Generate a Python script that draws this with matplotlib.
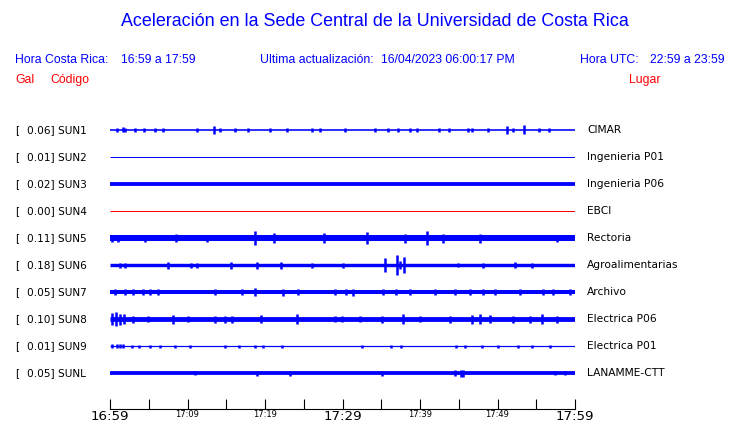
import matplotlib
matplotlib.use("Agg")
from matplotlib import pyplot as plt

W, H = 740, 423

codes = ["SUN1", "SUN2", "SUN3", "SUN4", "SUN5", "SUN6", "SUN7", "SUN8", "SUN9", "SUNL"]
peaks = [0.06, 0.01, 0.02, 0.00, 0.11, 0.18, 0.05, 0.10, 0.01, 0.05]
places = ["CIMAR", "Ingenieria P01", "Ingenieria P06", "EBCI", "Rectoria",
          "Agroalimentarias", "Archivo", "Electrica P06", "Electrica P01", "LANAMME-CTT"]
trace_colors = ["blue", "blue", "blue", "red", "blue", "blue", "blue", "blue", "blue", "blue"]

# background half-amplitude of each trace (px) and bursts (minute, half-amplitude px)
base_amp = [0.8, 0.5, 1.9, 0.5, 3.0, 1.7, 2.0, 2.4, 0.6, 1.9]
bursts = [
    [(0.9, 2), (1.7, 2.5), (1.9, 2), (3.2, 2), (4.4, 2), (5.8, 2), (6.9, 2), (11.2, 2), (13.4, 3.7),
     (14.2, 2), (16.1, 2), (17.8, 2), (20.6, 2), (22.8, 2), (26.0, 2), (27.1, 2), (30.3, 2),
     (34.2, 2), (35.9, 2), (37.2, 2), (38.7, 2), (39.6, 2), (42.4, 2), (43.7, 2), (46.2, 2),
     (46.7, 2), (48.8, 2), (51.2, 4), (52.0, 2), (53.4, 4.5), (55.3, 2), (56.6, 2)],
    [],
    [],
    [],
    [(0.3, 3.5), (1.0, 3.5), (4.5, 3.5), (8.5, 4), (12.5, 3.5), (18.7, 7), (21.2, 5), (27.6, 5),
     (33.2, 6), (38.1, 4.5), (40.9, 7), (43.0, 4.5), (47.7, 4.5), (57.7, 3.5)],
    [(1.3, 2.5), (1.9, 2.5), (7.5, 3.5), (10.5, 2.5), (11.2, 2.5), (15.6, 3.5), (19.0, 3.5),
     (22.1, 3.5), (26.1, 2.5), (30.1, 2.5), (35.5, 7), (37.0, 10), (37.4, 4), (37.9, 8),
     (44.9, 2), (48.1, 2.5), (52.3, 3), (54.5, 2.5)],
    [(0.6, 3), (1.9, 3), (3.0, 3), (4.3, 3), (5.2, 3), (6.2, 3), (13.5, 3), (17.0, 3), (18.7, 4),
     (22.3, 3.5), (24.3, 3), (29.0, 3), (30.5, 3), (31.4, 3.5), (35.2, 3), (36.9, 3), (38.7, 3),
     (41.9, 3), (44.5, 3), (46.5, 3), (48.1, 3), (49.7, 3), (52.9, 3), (55.9, 3), (57.2, 3),
     (59.4, 3)],
    [(0.3, 6), (0.8, 7), (1.3, 5.5), (1.8, 5), (3.0, 3.5), (4.9, 3), (8.1, 4.5), (10.1, 3),
     (13.5, 3.5), (14.8, 3.5), (15.7, 3.5), (19.5, 4), (24.1, 5), (29.0, 3), (29.9, 3), (32.3, 3),
     (35.1, 3.5), (37.8, 5), (40.0, 3), (43.9, 3.5), (46.7, 4.5), (47.7, 5), (49.0, 4), (52.0, 3.5),
     (54.2, 3.5), (55.7, 5), (57.7, 3.5)],
    [(0.2, 2), (0.9, 2), (1.3, 2), (1.7, 2), (2.8, 1.5), (3.7, 1.5), (5.2, 1.5), (6.5, 1.5),
     (8.4, 1.5), (10.3, 1.5), (14.8, 1.5), (16.6, 1.5), (18.7, 1.5), (19.8, 1.5), (22.2, 1.5),
     (32.5, 1.5), (36.3, 1.5), (37.6, 1.5), (44.7, 1.5), (45.8, 1.5), (48.0, 1.5), (50.1, 1.5),
     (52.7, 1.5), (54.4, 1.5), (56.8, 1.5)],
    [(11.0, 2.3), (19.0, 2.5), (23.2, 2.5), (35.1, 2.5), (44.5, 3), (45.3, 3.5), (45.5, 3.5),
     (57.4, 2.3), (58.7, 2.3)],
]

tick_minutes = list(range(0, 61, 5))
tick_labels = ["16:59", "", "17:09", "", "17:19", "", "17:29", "", "17:39", "", "17:49", "", "17:59"]
big_labels = ["16:59", "17:29", "17:59"]

fig = plt.figure(figsize=(W / 100, H / 100), dpi=100)


def fx(px):
    return px / W


def fy(py):
    return 1 - py / H


hdr = "Liberation Sans"
hs = 8.8
fig.text(fx(375), fy(22), "Aceleración en la Sede Central de la Universidad de Costa Rica",
         family=hdr, fontsize=12.9, color="blue", ha="center", va="center")
fig.text(fx(15), fy(60), "Hora Costa Rica:", family=hdr, fontsize=hs, color="blue", va="center")
fig.text(fx(121), fy(60), "16:59 a 17:59", family=hdr, fontsize=hs, color="blue", va="center")
fig.text(fx(260), fy(60), "Ultima actualización:", family=hdr, fontsize=hs, color="blue", va="center")
fig.text(fx(381), fy(60), "16/04/2023 06:00:17 PM", family=hdr, fontsize=hs, color="blue", va="center")
fig.text(fx(580), fy(60), "Hora UTC:", family=hdr, fontsize=hs, color="blue", va="center")
fig.text(fx(650), fy(60), "22:59 a 23:59", family=hdr, fontsize=hs, color="blue", va="center")
fig.text(fx(15), fy(80), "Gal", family=hdr, fontsize=hs, color="red", va="center")
fig.text(fx(50), fy(80), "Código", family=hdr, fontsize=hs, color="red", va="center")
fig.text(fx(629), fy(80), "Lugar", family=hdr, fontsize=hs, color="red", va="center")

top, bottom = 115, 409
ax = fig.add_axes([fx(110), fy(bottom), 465 / W, (bottom - top) / H])
ax.set_xlim(0, 60)
ax.set_ylim(bottom, top)
for s in ["top", "left", "right"]:
    ax.spines[s].set_visible(False)
ax.spines["bottom"].set_linewidth(0.8)
ax.set_yticks([])
ax.set_xticks(tick_minutes)
ax.set_xticklabels(tick_labels)
ax.tick_params(axis="x", direction="in", length=7, width=0.8, pad=1)
for lbl in ax.get_xticklabels():
    lbl.set_fontsize(9.6 if lbl.get_text() in big_labels else 6)

for i, code in enumerate(codes):
    yc = 130 + 27 * i
    c = trace_colors[i]
    ax.hlines(yc, 0, 60, color=c, lw=2 * base_amp[i] * 0.72)
    if bursts[i]:
        t = [b[0] for b in bursts[i]]
        a = [b[1] for b in bursts[i]]
        ax.vlines(t, [yc - v for v in a], [yc + v for v in a], color=c, lw=1.8)
    fig.text(fx(15), fy(yc), "[", fontsize=7.6, va="center")
    fig.text(fx(27), fy(yc), f"{peaks[i]:.2f}] {code}", fontsize=7.6, va="center")
    fig.text(fx(587), fy(yc), places[i], fontsize=7.7, va="center")

fig.savefig("out.png", dpi=100)
